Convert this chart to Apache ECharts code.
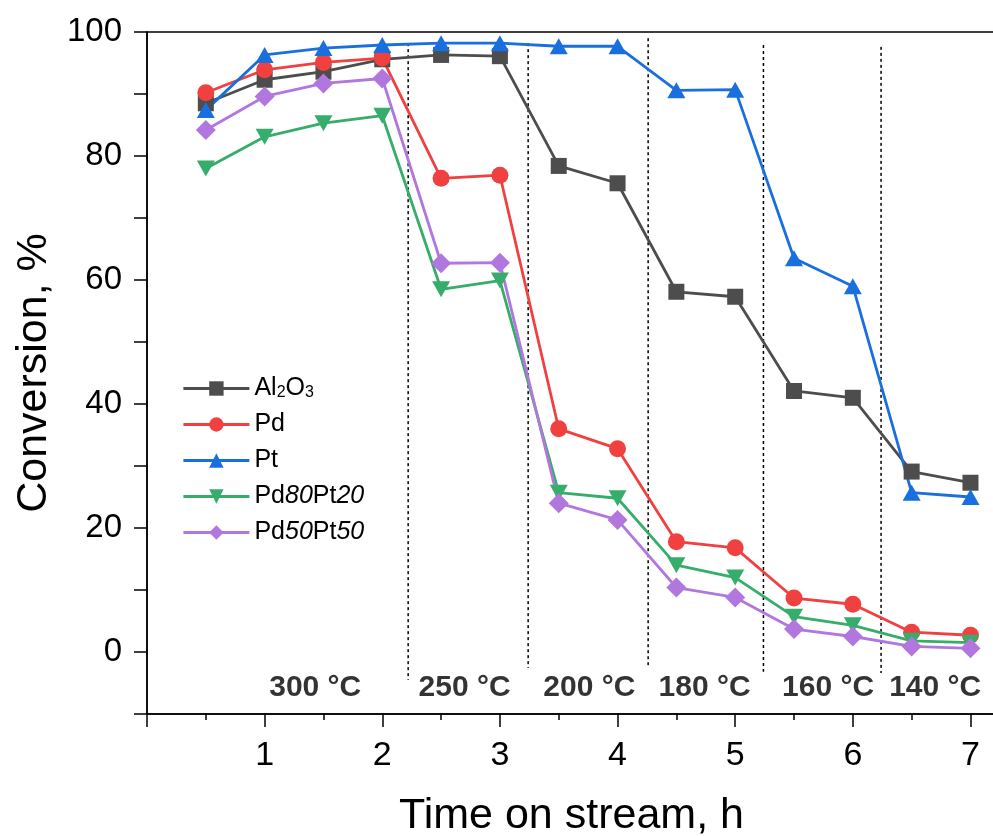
<!DOCTYPE html>
<html>
<head>
<meta charset="utf-8">
<script src="https://cdn.jsdelivr.net/npm/echarts@6/dist/echarts.min.js"></script>
<style>
  html, body { margin: 0; padding: 0; background: #fff; }
  #chart { width: 993px; height: 836px; }
</style>
</head>
<body>
<div id="chart"></div>
<script>
// time on stream, h
var timeH = [0.5, 1, 1.5, 2, 2.5, 3, 3.5, 4, 4.5, 5, 5.5, 6, 6.5, 7];

// conversion, %
var al2o3 = [88.5, 92.3, 93.6, 95.6, 96.3, 96.1, 78.4, 75.6, 58.1, 57.3, 42.1, 41.0, 29.1, 27.3];
var pd = [90.2, 93.9, 95.1, 95.8, 76.4, 76.9, 36.0, 32.8, 17.8, 16.8, 8.7, 7.7, 3.2, 2.7];
var pt = [87.4, 96.3, 97.4, 97.9, 98.2, 98.2, 97.7, 97.7, 90.6, 90.7, 63.5, 59.0, 25.7, 25.0];
var pd80pt20 = [78.0, 83.1, 85.3, 86.5, 58.5, 59.9, 25.7, 24.8, 14.0, 12.0, 5.7, 4.3, 1.8, 1.5];
var pd50pt50 = [84.2, 89.6, 91.7, 92.5, 62.7, 62.8, 24.0, 21.3, 10.4, 8.8, 3.7, 2.5, 0.9, 0.6];

// temperature steps (dashed separators and labels)
var dividerX = [2.22, 3.24, 4.26, 5.24, 6.24];
var dividerTop = [98.2, 98.2, 99.0, 97.9, 97.6];
var dividerBottom = [-4.5, -2.6, -2.4, -3.2, -3.4];
var tempLabels = ['300 °C', '250 °C', '200 °C', '180 °C', '160 °C', '140 °C'];
var tempLabelX = [1.43, 2.70, 3.76, 4.74, 5.79, 6.70];
var tempLabelY = -5.8;

var font = "'Liberation Sans', Arial, sans-serif";
var chart = echarts.init(document.getElementById('chart'));

function pairs(ys) {
  return timeH.map(function (t, i) { return [t, ys[i]]; });
}

// dashed separators between the temperature steps
var dividerSeries = dividerX.map(function (x, i) {
  return {
    type: 'line',
    name: 'divider' + i,
    data: [[x, dividerTop[i]], [x, dividerBottom[i]]],
    symbol: 'none',
    silent: true,
    lineStyle: { color: '#000', width: 1.5, type: [3, 3] },
    z: 1
  };
});

var dataSeries = [
  { name: 'Al2O3', data: pairs(al2o3), color: '#4d4d4d', symbol: 'rect', symbolSize: 16 },
  { name: 'Pd', data: pairs(pd), color: '#f14040', symbol: 'circle', symbolSize: 17 },
  { name: 'Pt', data: pairs(pt), color: '#1a6fdf', symbol: 'triangle', symbolSize: [18, 16] },
  { name: 'Pd80Pt20', data: pairs(pd80pt20), color: '#37ad6b', symbol: 'triangle', symbolSize: [18, 16], symbolRotate: 180 },
  { name: 'Pd50Pt50', data: pairs(pd50pt50), color: '#b177de', symbol: 'diamond', symbolSize: 20 }
].map(function (s) {
  return {
    type: 'line',
    name: s.name,
    data: s.data,
    symbol: s.symbol,
    symbolSize: s.symbolSize,
    symbolRotate: s.symbolRotate || 0,
    itemStyle: { color: s.color },
    lineStyle: { color: s.color, width: 2.8 },
    z: 3
  };
});

var labelSeries = {
  type: 'scatter',
  name: 'temps',
  silent: true,
  symbolSize: 1,
  itemStyle: { color: 'rgba(0,0,0,0)' },
  data: tempLabels.map(function (t, i) { return { name: t, value: [tempLabelX[i], tempLabelY] }; }),
  label: {
    show: true,
    position: 'inside',
    formatter: '{b}',
    color: '#000',
    fontFamily: font,
    fontWeight: 'bold',
    fontSize: 30
  },
  z: 4
};

var legendText = {
  'Al2O3': '{n|Al}{s|2}{n|O}{s|3}',
  'Pd': '{n|Pd}',
  'Pt': '{n|Pt}',
  'Pd80Pt20': '{n|Pd}{i|80}{n|Pt}{i|20}',
  'Pd50Pt50': '{n|Pd}{i|50}{n|Pt}{i|50}'
};

chart.setOption({
  animation: false,
  backgroundColor: '#fff',
  grid: {
    left: 147, top: 32, right: -3, bottom: 122,
    outerBoundsMode: 'none',
    show: true, borderColor: '#000', borderWidth: 1.5
  },
  legend: {
    data: ['Al2O3', 'Pd', 'Pt', 'Pd80Pt20', 'Pd50Pt50'],
    orient: 'vertical',
    left: 177,
    top: 371,
    itemWidth: 66,
    itemHeight: 18,
    itemGap: 11,
    formatter: function (name) { return legendText[name]; },
    lineStyle: { width: 2.8 },
    textStyle: {
      rich: {
        n: { fontFamily: font, fontSize: 25, color: '#000' },
        s: { fontFamily: font, fontSize: 16, color: '#000', verticalAlign: 'bottom' },
        i: { fontFamily: font, fontSize: 25, fontStyle: 'italic', color: '#000' }
      }
    }
  },
  xAxis: [{
    type: 'value',
    min: 0,
    max: 7.217,
    interval: 1,
    name: 'Time on stream, h',
    nameLocation: 'middle',
    nameGap: 81,
    nameTextStyle: { fontFamily: font, fontSize: 43, color: '#000' },
    axisLine: { onZero: false, lineStyle: { color: '#000', width: 1.5 } },
    axisTick: { show: true, length: 13, lineStyle: { color: '#000', width: 1.5 } },
    axisLabel: {
      margin: 25,
      fontFamily: font,
      fontSize: 34,
      color: '#000',
      formatter: function (v) { return (v > 0 && Math.abs(v - Math.round(v)) < 1e-6) ? String(Math.round(v)) : ''; }
    },
    splitLine: { show: false }
  }, {
    type: 'value',
    min: 0,
    max: 7.217,
    interval: 0.5,
    position: 'bottom',
    axisLine: { show: false, onZero: false },
    axisTick: { show: true, length: 6, lineStyle: { color: '#000', width: 1.5 } },
    axisLabel: { show: false },
    splitLine: { show: false }
  }],
  yAxis: {
    type: 'value',
    min: -10,
    max: 100,
    interval: 10,
    name: 'Conversion, %',
    nameLocation: 'middle',
    nameGap: 76,
    nameTextStyle: { fontFamily: font, fontSize: 43, color: '#000' },
    axisLine: { show: true, onZero: false, lineStyle: { color: '#000', width: 1.5 } },
    axisTick: { show: true, length: 13, lineStyle: { color: '#000', width: 1.5 } },
    axisLabel: {
      margin: 25,
      fontFamily: font,
      fontSize: 33,
      color: '#000',
      formatter: function (v) { return (v >= 0 && Math.round(v) % 20 === 0) ? String(Math.round(v)) : ''; }
    },
    splitLine: { show: false }
  },
  series: dividerSeries.concat(dataSeries).concat([labelSeries])
});
</script>
</body>
</html>
